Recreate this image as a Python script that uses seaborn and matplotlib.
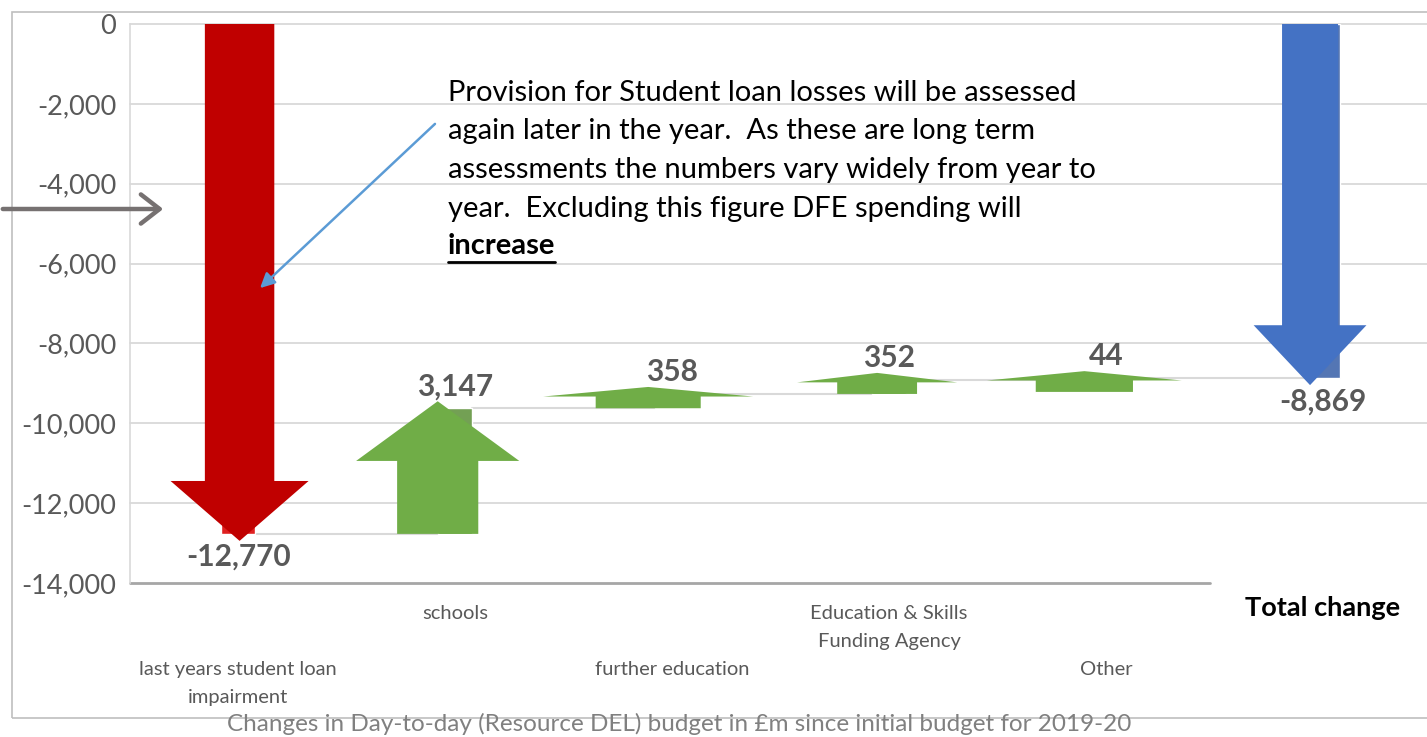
import numpy as np
import pandas as pd
import matplotlib
matplotlib.use("Agg")
import matplotlib.pyplot as plt
import seaborn as sns
from matplotlib.patches import Polygon, Rectangle, FancyArrowPatch
from matplotlib.lines import Line2D

# ---------------- data ----------------
categories = ["last years student loan\nimpairment", "schools", "further education",
              "Education & Skills\nFunding Agency", "Other", "Total change"]
changes = [-12770, 3147, 358, 352, 44]
total_change = -8869
value_labels = ["-12,770", "3,147", "358", "352", "44", "-8,869"]
y_ticks = [0, -2000, -4000, -6000, -8000, -10000, -12000, -14000]
y_tick_labels = ["0", "-2,000", "-4,000", "-6,000", "-8,000", "-10,000", "-12,000", "-14,000"]
title = "Changes in Day-to-day (Resource DEL) budget in £m since initial budget for 2019-20"
note_lines = ["Provision for Student loan losses will be assessed",
              "again later in the year.  As these are long term",
              "assessments the numbers vary widely from year to",
              "year.  Excluding this figure DFE spending will"]
note_bold = "increase"

# ---------------- styles ----------------
bar_colors = ["#FF0000", "#70AD47", "#70AD47", "#70AD47", "#70AD47", "#4472C4"]
arrow_colors = ["#C00000", "#70AD47", "#70AD47", "#70AD47", "#70AD47", "#4472C4"]
shaft_half = [0.16, 0.187, 0.242, 0.184, 0.224, 0.129]
head_half = [0.318, 0.376, 0.484, 0.369, 0.449, 0.26]
arrow_dx = [0.007, -0.08, -0.11, -0.055, -0.10, -0.06]
label_color = "#595959"

sns.set_theme(style="white")
plt.rcParams['font.family'] = ['Lato', 'DejaVu Sans']

# running totals
starts, ends = [], []
run = 0
for c in changes:
    starts.append(run)
    run += c
    ends.append(run)
starts.append(0)
ends.append(total_change)

df = pd.DataFrame({"cat": categories, "start": starts, "end": ends})
df["height"] = df["end"] - df["start"]

W, H = 1427, 737
fig = plt.figure(figsize=(W / 100, H / 100), dpi=100)
fig.patch.set_facecolor("white")

def fx(px):
    return px / W

def fy(py):
    return 1 - py / H

ax = fig.add_axes([fx(130), fy(583), 1297 / W, 559 / H])
ax.set_facecolor("white")

# floating bars (waterfall)
bw = 0.16
sns.barplot(data=df, x="cat", y="height", hue="cat", palette=bar_colors,
            width=bw, dodge=False, legend=False, ax=ax, zorder=3)
for patch, s, h in zip(ax.patches, df["start"], df["height"]):
    patch.set_y(s)
    patch.set_height(h)

xmin, xmax = -0.498, 5.479
ax.set_xlim(xmin, xmax)
ax.set_ylim(-14000, 0)

# gridlines
for t in y_ticks[:-1]:
    ax.plot([xmin, xmax], [t, t], color="#D9D9D9", lw=1.3, zorder=0, clip_on=False)
# bottom axis line (covers the first five categories)
ax.plot([xmin, 4.479], [-14000, -14000], color="#A6A6A6", lw=2, zorder=1, clip_on=False)

# connectors
for i in range(len(df) - 1):
    ax.plot([i + bw / 2, i + 1 - bw / 2], [ends[i], ends[i]], color="#D9D9D9",
            lw=1.5, zorder=1)

# arrows
overshoot = 175
min_len = 520
for i, (s, e) in enumerate(zip(starts, ends)):
    d = np.sign(e - s)
    tip = e + d * overshoot
    L = max(abs(tip - s), min_len)
    tail = tip - d * L
    hl = min(1500, 0.45 * L)
    base = tip - d * hl
    cx = i + arrow_dx[i]
    sh, hh = shaft_half[i], head_half[i]
    pts = [(cx - sh, tail), (cx + sh, tail), (cx + sh, base), (cx + hh, base),
           (cx, tip), (cx - hh, base), (cx - sh, base)]
    ax.add_patch(Polygon(pts, closed=True, facecolor=arrow_colors[i],
                         edgecolor="none", zorder=4, clip_on=False))
    # value label
    off = 22 if d > 0 else -23
    ax.annotate(value_labels[i], xy=(i, e), xytext=(0, off * 0.72),
                textcoords="offset points", ha="center", va="center",
                fontsize=21.5, fontweight="bold", color=label_color, zorder=5)

# y ticks
ax.set_yticks(y_ticks)
ax.set_yticklabels(y_tick_labels, fontsize=19.5, color=label_color)
ax.tick_params(axis="y", length=0, pad=10)
ax.set_xticks([])
ax.set_xlabel("")
ax.set_ylabel("")
for sp in ["top", "right", "bottom"]:
    ax.spines[sp].set_visible(False)
ax.spines["left"].set_color("#D9D9D9")
ax.spines["left"].set_linewidth(1.2)

# category labels (staggered)
for i, cat in enumerate(categories):
    if i == len(categories) - 1:
        ax.annotate(cat, xy=(i, 0), xycoords=("data", "axes fraction"),
                    xytext=(0, -25 * 0.72), textcoords="offset points",
                    ha="center", va="center", fontsize=19.5, fontweight="bold",
                    color="black")
        continue
    dy = -22 if i % 2 == 1 else -78
    ax.annotate(cat, xy=(i, 0), xycoords=("data", "axes fraction"),
                xytext=(0, dy * 0.72), textcoords="offset points",
                ha="center", va="top", fontsize=14.5, color=label_color,
                linespacing=1.8)

# note text
line_y = [93, 131, 170, 209]
for ln, py in zip(note_lines, line_y):
    fig.text(fx(448), fy(py), ln, ha="left", va="center", fontsize=21, color="black")
inc = fig.text(fx(448), fy(246), note_bold, ha="left", va="center", fontsize=21,
               color="black", fontweight="bold")

# annotation arrows
fig.patches.append(FancyArrowPatch((fx(437), fy(122)), (fx(258), fy(290)),
                                   transform=fig.transFigure, arrowstyle="-|>",
                                   mutation_scale=22, color="#5B9BD5", lw=1.8))
fig.patches.append(FancyArrowPatch((fx(0), fy(209)), (fx(166), fy(209)),
                                   transform=fig.transFigure, arrowstyle="->,head_length=0.45,head_width=0.35",
                                   mutation_scale=30, color="#767171", lw=3.2))

# title
fig.text(fx(679), fy(724), title, ha="center", va="center", fontsize=17.5, color="#808080")

# outer border
fig.patches.append(Rectangle((fx(12), fy(718)), 1.2, fy(12) - fy(718),
                             transform=fig.transFigure, fill=False,
                             edgecolor="#BFBFBF", lw=1.2, zorder=0))

# underline for bold word
fig.canvas.draw()
bb = inc.get_window_extent()
fig.lines.append(Line2D([bb.x0 / W, bb.x1 / W], [fy(262), fy(262)],
                        transform=fig.transFigure, color="black", lw=2))

fig.savefig("out.png", dpi=100, facecolor="white")
